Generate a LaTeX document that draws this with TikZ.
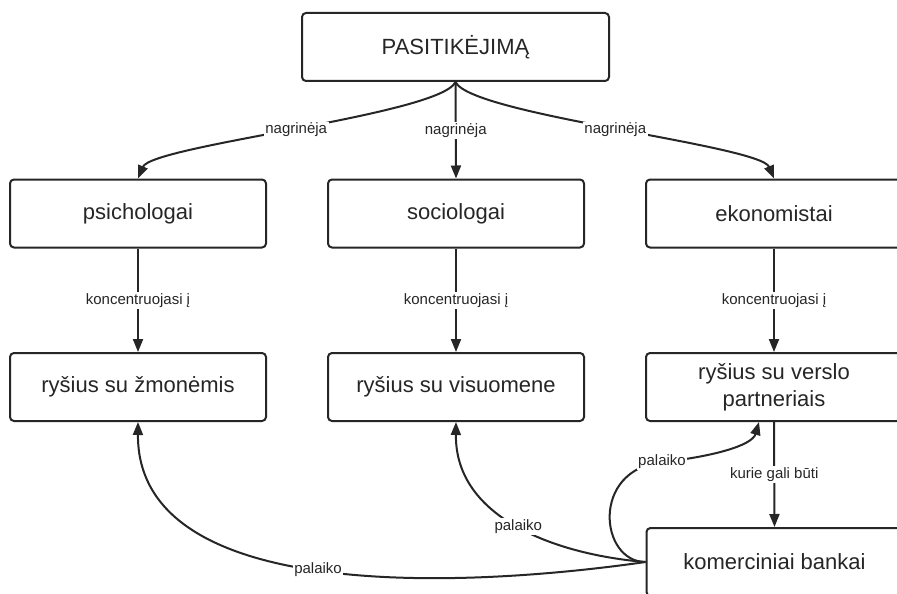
\documentclass[tikz,border=0pt]{standalone}
\usepackage{fontspec}
\setmainfont{Liberation Sans}
\usetikzlibrary{arrows.meta}
\definecolor{ink}{HTML}{262626}
\tikzset{
  box/.style={draw=ink, line width=2pt, rounded corners=4pt, fill=white,
    minimum width=256pt, minimum height=68pt, inner sep=0pt, align=center,
    text=ink, font=\fontsize{22}{27}\selectfont},
  link/.style={draw=ink, line width=2pt,
    -{Triangle[length=13pt,width=10pt]}},
  tag/.style={fill=white, inner sep=1.5pt, text=ink,
    font=\fontsize{15}{17}\selectfont}
}
\begin{document}
\begin{tikzpicture}[x=1pt,y=-1pt]
\useasboundingbox (0,0) rectangle (897,594);
\clip (0,0) rectangle (897,594);
\fill[white] (0,0) rectangle (897,594);

% boxes
\node[box, minimum width=307pt] (top) at (455.5,47) {PASITIKĖJIMĄ};
\node[box] (psy) at (138,213.5) {psichologai};
\node[box] (soc) at (456,213.5) {sociologai};
\node[box] (eko) at (774,213.5) {ekonomistai};
\node[box] (zmo) at (138,387) {ryšius su žmonėmis};
\node[box] (vis) at (456,387) {ryšius su visuomene};
\node[box] (ver) at (774,387) {ryšius su verslo\\partneriais};
\node[box] (bnk) at (774.5,562) {komerciniai bankai};

% who studies trust
\draw[link] (top.south) .. controls (440,115) and (152,145) .. node[tag] {nagrinėja} (psy.north);
\draw[link] (top.south) -- node[tag] {nagrinėja} (soc.north);
\draw[link] (top.south) .. controls (471,115) and (760,145) .. node[tag] {nagrinėja} (eko.north);

% what each discipline focuses on
\draw[link] (psy.south) -- node[tag] {koncentruojasi į} (zmo.north);
\draw[link] (soc.south) -- node[tag] {koncentruojasi į} (vis.north);
\draw[link] (eko.south) -- node[tag] {koncentruojasi į} (ver.north);
\draw[link] (ver.south) -- node[tag] {kurie gali būti} (bnk.north);

% banks support relationships
\draw[link] (bnk.west) .. controls (450,590) and (137,600) .. node[tag] {palaiko} (zmo.south);
\draw[link] (bnk.west) .. controls (560,555) and (455,520) .. node[tag] {palaiko} (vis.south);
\draw[link] (bnk.west) .. controls (600,562) and (590,470) .. (662,462)
  node[tag] {palaiko}
  .. controls (710,457) and (752,446) .. (ver.south -| 759,0);
\end{tikzpicture}
\end{document}
